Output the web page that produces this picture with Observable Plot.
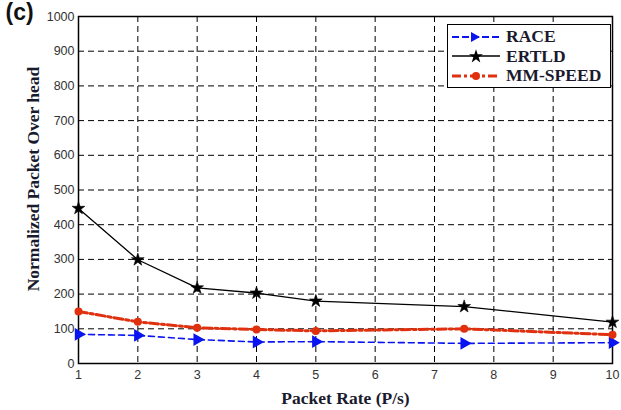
<!DOCTYPE html>
<html>
<head>
<meta charset="utf-8">
<script src="https://cdn.jsdelivr.net/npm/d3@7"></script>
<script src="https://cdn.jsdelivr.net/npm/@observablehq/plot@0.6"></script>
<style>
  html, body { margin: 0; padding: 0; background: #fff; }
  #wrap { position: relative; width: 621px; height: 410px; }
  #legend { position: absolute; left: 447px; top: 24px; width: 164px; height: 64px; background: #fff;
    border: 1px solid #000; box-sizing: border-box; font-family: "Liberation Serif", serif; font-weight: bold;
    font-size: 17.5px; color: #1a1a2e; padding-top: 2px; }
  .row { display: flex; align-items: center; height: 19.5px; }
  .row svg { margin-left: 2px; margin-right: 4px; }
</style>
</head>
<body>
<div id="wrap"></div>
<script>
const packetRate = [1, 2, 3, 4, 5, 7.5, 10];
const race = [84, 81, 69, 62, 63, 58, 60];
const ertld = [447, 299, 218, 203, 180, 164, 119];
const mmspeed = [150, 120, 103, 98, 94, 100, 83];
const seriesNames = ["RACE", "ERTLD", "MM-SPEED"];
const xTicks = [1, 2, 3, 4, 5, 6, 7, 8, 9, 10];
const yTicks = [0, 100, 200, 300, 400, 500, 600, 700, 800, 900, 1000];

const colors = { "RACE": "#0a14f0", "ERTLD": "#000000", "MM-SPEED": "#e0300e" };
const rows = (vals, name) => packetRate.map((x, i) => ({ x, y: vals[i], series: name }));
const dRace = rows(race, "RACE");
const dErtld = rows(ertld, "ERTLD");
const dMm = rows(mmspeed, "MM-SPEED");

const tickFont = "Liberation Sans, Arial, sans-serif";
const chart = Plot.plot({
  width: 621,
  height: 410,
  marginLeft: 78,
  marginRight: 9,
  marginTop: 16,
  marginBottom: 47,
  style: { background: "#fff", color: "#222", fontFamily: tickFont },
  x: { domain: [1, 10] },
  y: { domain: [0, 1000] },
  marks: [
    Plot.gridX(xTicks.slice(1, -1), { stroke: "#000", strokeOpacity: 1, strokeDasharray: "6,4", strokeWidth: 1 }),
    Plot.gridY(yTicks.slice(1, -1), { stroke: "#000", strokeOpacity: 1, strokeDasharray: "6,4", strokeWidth: 1 }),
    Plot.axisX(xTicks, { tickSize: 0, tickPadding: 7, fontSize: 12.5, label: null, fill: "#333", tickFormat: d => String(d) }),
    Plot.axisY(yTicks, { tickSize: 0, tickPadding: 4, fontSize: 12.5, label: null, fill: "#333", tickFormat: d => String(d) }),
    Plot.frame({ stroke: "#000", strokeWidth: 1.5 }),
    Plot.line(dRace, { x: "x", y: "y", stroke: colors["RACE"], strokeWidth: 1.6, strokeDasharray: "6,4" }),
    Plot.line(dMm, { x: "x", y: "y", stroke: colors["MM-SPEED"], strokeWidth: 3, strokeDasharray: "9,3,3,3" }),
    Plot.line(dErtld, { x: "x", y: "y", stroke: colors["ERTLD"], strokeWidth: 1.3 }),
    Plot.dot(dRace, { x: "x", y: "y", symbol: "triangle", rotate: 90, r: 3.8, fill: colors["RACE"], stroke: colors["RACE"] }),
    Plot.dot(dMm, { x: "x", y: "y", symbol: "circle", r: 4, fill: colors["MM-SPEED"] }),
    Plot.dot(dErtld, { x: "x", y: "y", symbol: "star", r: 4, fill: "#000", stroke: "#000", strokeWidth: 0.6 }),
    Plot.text(["Packet Rate (P/s)"], { text: d => d, frameAnchor: "bottom", dy: 40, fontFamily: "Liberation Serif, serif", fontWeight: "bold", fontSize: 17.5, fill: "#1a1a2e" }),
    Plot.text(["Normalized Packet Over head"], { text: d => d, frameAnchor: "left", textAnchor: "middle", rotate: -90, dx: -45, dy: -11, fontFamily: "Liberation Serif, serif", fontWeight: "bold", fontSize: 17.5, fill: "#1a1a2e" }),
    Plot.text(["(c)"], { text: d => d, frameAnchor: "top-left", dx: -73, dy: -13, fontFamily: "Liberation Sans, Arial, sans-serif", fontWeight: "bold", fontSize: 23, fill: "#111" })
  ]
});
const wrap = document.getElementById("wrap");
wrap.appendChild(chart);

// legend
const leg = document.createElement("div");
leg.id = "legend";
const symbolSvg = (name) => {
  const c = colors[name];
  if (name === "RACE") return `<svg width="52" height="14"><line x1="2" y1="7" x2="50" y2="7" stroke="${c}" stroke-width="1.8" stroke-dasharray="7,3"/><path d="M21,2 L30,7 L21,12 Z" fill="${c}"/></svg>`;
  if (name === "ERTLD") { const p = d3.symbol(d3.symbolStar, 60)(); return `<svg width="52" height="14"><line x1="2" y1="7" x2="50" y2="7" stroke="${c}" stroke-width="1.6"/><path transform="translate(26,7.5)" d="${p}" fill="#000"/></svg>`; }
  return `<svg width="52" height="14"><line x1="2" y1="7" x2="50" y2="7" stroke="${c}" stroke-width="3.2" stroke-dasharray="9,3,3,3"/><circle cx="26" cy="7" r="4" fill="${c}"/></svg>`;
};
leg.innerHTML = seriesNames.map(n => `<div class="row">${symbolSvg(n)}<span>${n}</span></div>`).join("");
wrap.appendChild(leg);
</script>
</body>
</html>
